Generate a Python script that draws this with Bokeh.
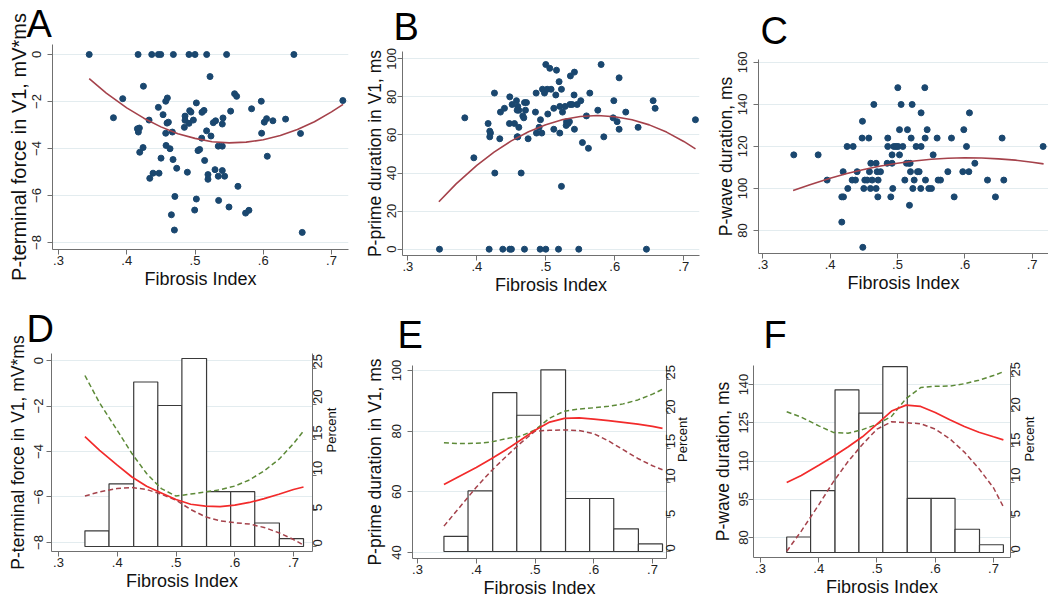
import math
from bokeh.plotting import figure
from bokeh.models import Range1d, LinearAxis, FixedTicker, Title
from bokeh.layouts import column, row
from bokeh.embed import file_html
from bokeh.resources import INLINE

# ---------------- data ----------------
x_ticks = [0.3, 0.4, 0.5, 0.6, 0.7]
x_tick_labels = [".3", ".4", ".5", ".6", ".7"]

# Panel A: P-terminal force in V1 (mV*ms) vs fibrosis index
a_x = [0.345, 0.4166, 0.4366, 0.4463, 0.4498, 0.4683, 0.4912, 0.500, 0.5171, 0.5463, 0.6449,
       0.522, 0.4244, 0.3941, 0.3805, 0.4595, 0.4571, 0.4463, 0.4532, 0.4327, 0.459, 0.461,
       0.4156, 0.4185, 0.417, 0.4239, 0.419, 0.4571, 0.4668, 0.4576, 0.4634, 0.4502, 0.4337,
       0.4385, 0.4473, 0.4678, 0.4732, 0.4705, 0.4654, 0.4698, 0.4844, 0.4854, 0.4854, 0.4922,
       0.4941, 0.4912, 0.4976, 0.502, 0.4888, 0.4995, 0.502, 0.5044, 0.5068, 0.5102, 0.5132,
       0.5098, 0.517, 0.5141, 0.5234, 0.519, 0.519, 0.5268, 0.5302, 0.5341, 0.540, 0.5293,
       0.5341, 0.540, 0.5434, 0.541, 0.540, 0.5346, 0.5498, 0.5522, 0.558, 0.561, 0.5629,
       0.5741, 0.579, 0.5829, 0.5971, 0.5976, 0.6015, 0.6049, 0.6141, 0.6059, 0.6327, 0.6546,
       0.6571, 0.7166]
a_y = [0, 0, 0, 0, 0, 0, 0, 0, 0, 0, 0,
       -0.94, -1.35, -1.88, -2.69, -1.85, -1.99, -2.25, -2.56, -2.79, -2.92, -2.88,
       -3.16, -3.13, -3.30, -3.96, -4.16, -3.35, -3.30, -3.87, -4.01, -4.41, -5.27,
       -5.05, -5.05, -4.47, -4.84, -6.04, -6.82, -7.47, -3.10, -2.80, -2.62, -2.39,
       -2.45, -2.93, -2.79, -2.06, -5.01, -6.62, -6.15, -4.09, -4.04, -2.46, -2.38,
       -3.56, -3.25, -4.51, -3.47, -5.11, -5.31, -2.90, -2.82, -3.90, -3.90, -4.90,
       -5.18, -4.94, -5.18, -2.70, -2.96, -6.21, -6.49, -2.41, -1.67, -1.78, -5.61,
       -6.75, -6.63, -2.31, -1.99, -3.35, -2.88, -2.73, -2.82, -4.33, -2.75, -3.36,
       -7.57, -1.96]

# Panel B: P-prime duration in V1 (ms)
b_x = [0.3459, 0.4179, 0.4377, 0.4478, 0.4502, 0.4691, 0.4918, 0.500, 0.5184, 0.5478, 0.6459,
       0.3826, 0.3957, 0.4164, 0.4188, 0.4198, 0.4188, 0.4256, 0.4261, 0.4333, 0.4343, 0.4401,
       0.4473, 0.4546, 0.4478, 0.4512, 0.4575, 0.4594, 0.4609, 0.4585, 0.4609, 0.4594, 0.4585,
       0.4643, 0.4667, 0.4681, 0.4691, 0.472, 0.4705, 0.4744, 0.485, 0.486, 0.4865, 0.4903,
       0.4923, 0.4942, 0.4952, 0.4981, 0.500, 0.502, 0.5029, 0.5058, 0.5077, 0.5116, 0.5116,
       0.5145, 0.5155, 0.5193, 0.5203, 0.5242, 0.5227, 0.5203, 0.5227, 0.528, 0.530, 0.5324,
       0.5343, 0.5295, 0.5357, 0.535, 0.5382, 0.5454, 0.5415, 0.541, 0.5415, 0.5507, 0.5531,
       0.5589, 0.5618, 0.5638, 0.5754, 0.5802, 0.5841, 0.5986, 0.5976, 0.6034, 0.6063, 0.6063,
       0.6159, 0.6338, 0.6556, 0.6585, 0.7169]
b_y = [0, 0, 0, 0, 0, 0, 0, 0, 0, 0, 0,
       69, 48, 66, 62, 61, 59, 82, 40, 58, 72, 74,
       66, 66, 80, 76, 78, 75, 73, 73, 64, 59, 59,
       40, 70, 69, 77, 77, 73, 58, 72, 82, 61, 64,
       68, 61, 84, 82, 97, 84, 71, 95, 84, 63, 74,
       81, 94, 88, 75, 72, 84, 61, 33, 75, 67, 66,
       67, 65, 91, 76, 76, 76, 93, 81, 63, 78, 56,
       70, 53, 82, 73, 97, 59, 78, 69, 67, 90, 63,
       72, 64, 78, 74, 68]

# Panel C: P-wave duration (ms)
c_x = [0.346, 0.3822, 0.3955, 0.4173, 0.4198, 0.4173, 0.4193, 0.4252, 0.4262, 0.4342, 0.4327,
       0.4376, 0.4401, 0.448, 0.4475, 0.4485, 0.450, 0.4515, 0.455, 0.4574, 0.4584, 0.4599,
       0.4604, 0.4624, 0.4649, 0.4683, 0.4698, 0.4683, 0.4713, 0.4708, 0.4748, 0.4856, 0.4856,
       0.4847, 0.4901, 0.492, 0.492, 0.493, 0.4946, 0.498, 0.501, 0.5005, 0.503, 0.503,
       0.5054, 0.5079, 0.5109, 0.5134, 0.5168, 0.5188, 0.5148, 0.5178, 0.5193, 0.5203, 0.5218,
       0.5228, 0.5248, 0.5277, 0.5297, 0.5322, 0.5351, 0.5351, 0.5346, 0.5406, 0.5411, 0.5416,
       0.5441, 0.5465, 0.5505, 0.553, 0.5589, 0.5604, 0.5639, 0.5748, 0.5802, 0.5842, 0.5985,
       0.597, 0.6025, 0.606, 0.6069, 0.6149, 0.6337, 0.6455, 0.6554, 0.6579, 0.7163]
c_y = [116, 116, 104, 96, 96, 84, 108, 120, 100, 120, 104,
       104, 108, 132, 124, 72, 100, 104, 104, 124, 108, 100,
       112, 104, 140, 112, 108, 100, 104, 96, 108, 124, 120,
       112, 96, 116, 112, 100, 120, 120, 120, 148, 128, 116,
       140, 120, 104, 112, 112, 112, 128, 92, 108, 124, 140,
       100, 104, 120, 108, 108, 136, 120, 100, 148, 124, 104,
       128, 100, 100, 116, 124, 104, 104, 108, 124, 96, 128,
       108, 120, 108, 136, 112, 104, 96, 124, 104, 120]

# quadratic fit lines
fit_x = [0.345, 0.37, 0.40, 0.425, 0.45, 0.475, 0.50, 0.525, 0.55, 0.575, 0.60, 0.625, 0.65, 0.675, 0.70, 0.717]
a_fit = [-1.03, -1.64, -2.27, -2.71, -3.08, -3.37, -3.57, -3.71, -3.76, -3.73, -3.63, -3.45, -3.19, -2.86, -2.44, -2.12]
b_fit = [24.9, 34.3, 44.0, 51.0, 56.9, 61.7, 65.4, 68.1, 69.7, 70.2, 69.6, 68.0, 65.3, 61.5, 56.6, 52.7]
c_fit = [99.0, 101.8, 104.9, 107.1, 109.0, 110.7, 112.0, 113.1, 113.9, 114.4, 114.6, 114.5, 114.1, 113.5, 112.5, 111.7]

# Histogram of fibrosis index (percent)
hist_edges = [0.345, 0.386, 0.428, 0.469, 0.510, 0.552, 0.593, 0.634, 0.676, 0.717]
hist_pct = [2.2, 8.8, 23.1, 19.8, 26.4, 7.7, 7.7, 3.3, 1.1]

# spline fits with confidence bands (panels D-F)
sp_x = [0.345, 0.37, 0.40, 0.425, 0.45, 0.475, 0.50, 0.525, 0.55, 0.575, 0.60, 0.625, 0.65, 0.675, 0.70, 0.717]
d_fit = [-3.35, -3.95, -4.60, -5.12, -5.53, -5.82, -6.11, -6.32, -6.40, -6.42, -6.36, -6.24, -6.07, -5.88, -5.67, -5.56]
d_hi = [-0.66, -1.87, -3.07, -4.09, -4.97, -5.63, -5.96, -5.87, -5.78, -5.68, -5.52, -5.25, -4.85, -4.35, -3.65, -3.10]
d_lo = [-5.96, -5.77, -5.63, -5.58, -5.67, -5.88, -6.14, -6.55, -6.87, -7.05, -7.13, -7.19, -7.34, -7.57, -7.87, -8.11]

e_fit = [62.4, 65.0, 68.0, 70.8, 73.8, 77.0, 80.3, 83.0, 84.2, 84.4, 84.0, 83.5, 82.9, 82.3, 81.6, 80.9]
e_hi = [76.2, 75.9, 76.0, 76.4, 77.5, 78.3, 80.4, 84.3, 86.6, 87.3, 87.7, 88.2, 89.0, 90.3, 92.2, 93.8]
e_lo = [48.7, 54.5, 61.5, 66.8, 71.5, 76.0, 80.0, 80.3, 80.4, 80.2, 79.2, 76.8, 73.9, 71.0, 68.6, 67.3]

f_fit = [101.6, 104.3, 108.3, 111.8, 115.5, 119.5, 124.5, 129.6, 131.9, 131.4, 129.0, 126.2, 123.5, 121.3, 119.5, 118.3]
f_hi = [129.3, 127.2, 123.8, 121.2, 120.9, 122.3, 124.4, 127.5, 134.5, 138.8, 139.3, 139.4, 140.3, 141.7, 143.5, 145.0]
f_lo = [74.6, 82.5, 92.8, 101.8, 109.7, 116.5, 122.5, 125.4, 125.0, 124.6, 122.5, 118.7, 113.5, 107.0, 99.5, 92.0]

pct_ticks = [0, 5, 10, 15, 20, 25]

# ---------------- style ----------------
FONT = "Liberation Sans"
NAVY = "#1a476f"
MAROON = "#a5424b"
GREEN = "#5d8a38"
RED = "#f22b2b"
GRID = "#e3ecef"
AXIS = "#707070"


def style_axis(ax, tick_size="13px", label_size="18px"):
    ax.axis_line_color = AXIS
    ax.major_tick_line_color = AXIS
    ax.minor_tick_line_color = None
    ax.major_tick_out = 5
    ax.major_tick_in = 0
    ax.major_label_standoff = 1
    ax.axis_label_standoff = 1
    ax.major_label_text_font = FONT
    ax.major_label_text_font_size = tick_size
    ax.major_label_text_color = "#222222"
    ax.axis_label_text_font = FONT
    ax.axis_label_text_font_size = label_size
    ax.axis_label_text_font_style = "normal"
    ax.axis_label_text_color = "#111111"


def make_panel(borders, fw, fh, xr, yr, yticks, ylabel, ylabel_size, ystand,
               letter, letter_offset, letter_standoff):
    l, t, r, b = borders
    p = figure(frame_width=fw, frame_height=fh, title=None,
               x_range=Range1d(*xr), y_range=Range1d(*yr),
               output_backend="svg", toolbar_location=None,
               min_border_left=l, min_border_top=t,
               min_border_right=r, min_border_bottom=b)
    try:
        p.frame_align = False
    except Exception:
        pass
    p.outline_line_color = None
    p.background_fill_color = "white"
    p.border_fill_color = "white"
    p.xgrid.visible = False
    p.ygrid.ticker = FixedTicker(ticks=yticks)
    p.ygrid.grid_line_color = GRID
    p.ygrid.grid_line_width = 1
    p.xaxis.ticker = FixedTicker(ticks=x_ticks)
    p.xaxis.major_label_overrides = {k: v for k, v in zip(x_ticks, x_tick_labels)}
    p.yaxis.ticker = FixedTicker(ticks=yticks)
    p.xaxis.axis_label = "Fibrosis Index"
    p.yaxis.axis_label = ylabel
    style_axis(p.xaxis[0])
    style_axis(p.yaxis[0], label_size=ylabel_size)
    p.yaxis.major_label_standoff = ystand[0]
    p.yaxis.axis_label_standoff = ystand[1]
    p.yaxis.major_label_orientation = "vertical"
    p.add_layout(Title(text=letter, text_font=FONT, text_font_size="38px",
                       text_font_style="normal", text_color="black",
                       align="left", offset=letter_offset, standoff=letter_standoff), "above")
    return p


def add_pct_axis(p, pr, stand):
    p.extra_y_ranges = {"pct": Range1d(*pr)}
    ax = LinearAxis(y_range_name="pct", ticker=FixedTicker(ticks=pct_ticks), axis_label="Percent")
    style_axis(ax, tick_size="13px", label_size="13px")
    ax.major_tick_out = 4
    ax.major_label_standoff = stand[0]
    ax.axis_label_standoff = stand[1]
    ax.major_label_orientation = math.pi / 2
    try:
        ax.axis_label_orientation = math.pi / 2
    except Exception:
        pass
    p.add_layout(ax, "right")
    p.quad(left=hist_edges[:-1], right=hist_edges[1:], bottom=0, top=hist_pct,
           y_range_name="pct", fill_color="white", line_color="#3a3a3a", line_width=1.2)


# ---------------- top row ----------------
pA = make_panel((52, 42, 2, 53), 296, 205, (0.2912, 0.7249), (-8.298, 0.4255),
                [-8, -6, -4, -2, 0], "P-terminal force in V1, mV*ms", "20px", (6, 0),
                "A", -26, 0)
pA.scatter(a_x, a_y, size=6, color=NAVY)
pA.line(fit_x, a_fit, line_color=MAROON, line_width=1.6)

pB = make_panel((52, 50, 1, 46), 297, 204, (0.2923, 0.7228), (-3.31, 103.83),
                [0, 20, 40, 60, 80, 100], "P-prime duration in V1, ms", "17.5px", (1, 0),
                "B", -9, 7)
pB.scatter(b_x, b_y, size=6, color=NAVY)
pB.line(fit_x, b_fit, line_color=MAROON, line_width=1.6)

pC = make_panel((58, 58, 0, 48), 290, 194, (0.2936, 0.7243), (69.05, 161.4),
                [80, 100, 120, 140, 160], "P-wave duration, ms", "17.5px", (6, 0),
                "C", 2, 15)
pC.scatter(c_x, c_y, size=6, color=NAVY)
pC.line(fit_x, c_fit, line_color=MAROON, line_width=1.6)

# ---------------- bottom row ----------------
pD = make_panel((51, 50, 38, 50), 261, 198, (0.2881, 0.7323), (-8.396, 0.308),
                [-8, -6, -4, -2, 0], "P-terminal force in V1, mV*ms", "17.5px", (3, 4),
                "D", -25, 7)
add_pct_axis(pD, (-0.70, 27.1), (1, 2))
pD.line(sp_x, d_lo, line_color=MAROON, line_width=1.5, line_dash="5 3")
pD.line(sp_x, d_hi, line_color=GREEN, line_width=1.5, line_dash="5 3")
pD.line(sp_x, d_fit, line_color=RED, line_width=1.7)

pE = make_panel((62, 62, 34, 43), 254, 193, (0.2915, 0.7238), (38.02, 101.65),
                [40, 60, 80, 100], "P-prime duration in V1, ms", "17.5px", (6, 5),
                "E", -15, 19)
add_pct_axis(pE, (-1.02, 27.03), (0, 0))
pE.line(sp_x, e_lo, line_color=MAROON, line_width=1.5, line_dash="5 3")
pE.line(sp_x, e_hi, line_color=GREEN, line_width=1.5, line_dash="5 3")
pE.line(sp_x, e_fit, line_color=RED, line_width=1.7)

pF = make_panel((53, 62, 38, 44), 257, 192, (0.288, 0.7292), (72.16, 147.45),
                [80, 95, 110, 125, 140], "P-wave duration, ms", "17.5px", (0, 4),
                "F", 10, 19)
add_pct_axis(pF, (-0.71, 26.56), (1, 2))
pF.line(sp_x, f_lo, line_color=MAROON, line_width=1.5, line_dash="5 3")
pF.line(sp_x, f_hi, line_color=GREEN, line_width=1.5, line_dash="5 3")
pF.line(sp_x, f_fit, line_color=RED, line_width=1.7)

layout = column(row(pA, pB, pC), row(pD, pE, pF))

open("out.html", "w").write(file_html(layout, INLINE))
